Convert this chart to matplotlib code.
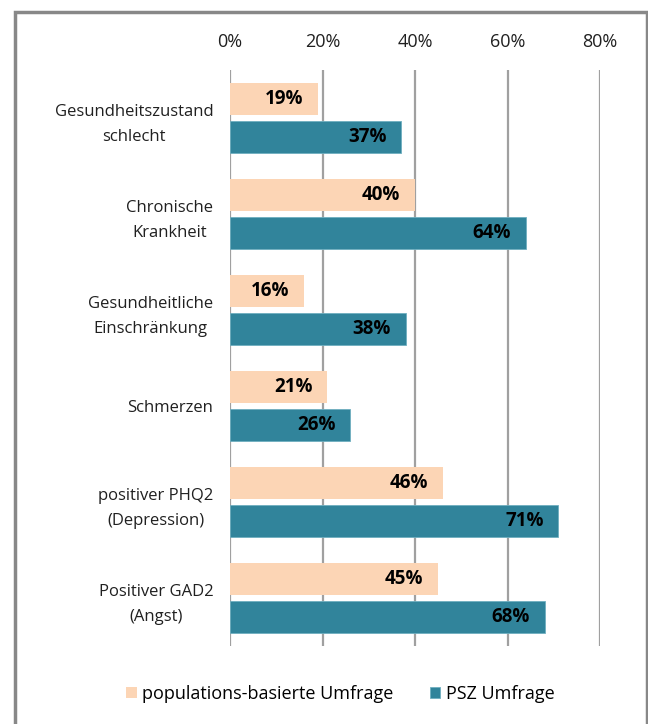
import matplotlib.pyplot as plt
import matplotlib.patches as patches
import numpy as np

plt.rcParams['font.family'] = ['Open Sans', 'DejaVu Sans']

categories = ['Gesundheitszustand\nschlecht', 'Chronische\nKrankheit',
              'Gesundheitliche\nEinschränkung', 'Schmerzen',
              'positiver PHQ2\n(Depression)', 'Positiver GAD2\n(Angst)']
pop_values = [19, 40, 16, 21, 46, 45]
psz_values = [37, 64, 38, 26, 71, 68]
series_names = ['populations-basierte Umfrage', 'PSZ Umfrage']
xticks = [0, 20, 40, 60, 80]

pink = '#FCD5B5'
teal = '#31849B'

fig = plt.figure(figsize=(6.48, 7.24), dpi=100)
ax = fig.add_axes([230 / 648, 1 - 646 / 724, 370 / 648, 576 / 724])

y = np.arange(len(categories))
h = 0.33
ax.barh(y - 0.2, pop_values, height=h, color=pink, label=series_names[0], zorder=3)
ax.barh(y + 0.2, psz_values, height=h, color=teal, edgecolor='#6FAFC0',
        linewidth=0.6, label=series_names[1], zorder=3)

for yi, v in zip(y, pop_values):
    ax.text(v - 3.2, yi - 0.2, f'{v}%', ha='right', va='center',
            fontsize=13.5, fontweight='bold', zorder=4)
for yi, v in zip(y, psz_values):
    ax.text(v - 3.2, yi + 0.2, f'{v}%', ha='right', va='center',
            fontsize=13.5, fontweight='bold', zorder=4)

ax.set_xlim(0, 80)
ax.set_ylim(len(categories) - 0.5, -0.5)
ax.set_xticks(xticks)
ax.set_xticklabels([f'{t}%' for t in xticks], fontsize=13, color='#202020')
ax.xaxis.tick_top()
ax.set_yticks(y)
ax.set_yticklabels(categories, fontsize=12, color='#202020')
for lab in ax.get_yticklabels():
    lab.set_multialignment('center')
    lab.set_linespacing(1.75)
ax.tick_params(axis='both', length=0)
ax.tick_params(axis='y', pad=12)
ax.tick_params(axis='x', pad=14)
for s in ax.spines.values():
    s.set_visible(False)
ax.grid(axis='x', color='#A0A0A0', linewidth=1.6, zorder=1)
ax.grid(axis='y', visible=False)

leg = fig.legend(loc='center', bbox_to_anchor=(0.525, 1 - 694 / 724), ncol=2,
                 frameon=False, fontsize=13, handlelength=0.6, handleheight=0.6,
                 handletextpad=0.3, columnspacing=2.0)

frame = patches.Rectangle((15 / 648, -0.1), 632 / 648, 1.1 - 12 / 724,
                          transform=fig.transFigure, fill=False,
                          edgecolor='#888888', linewidth=2.5, clip_on=False)
fig.patches.append(frame)

fig.savefig('out.png', dpi=100)
